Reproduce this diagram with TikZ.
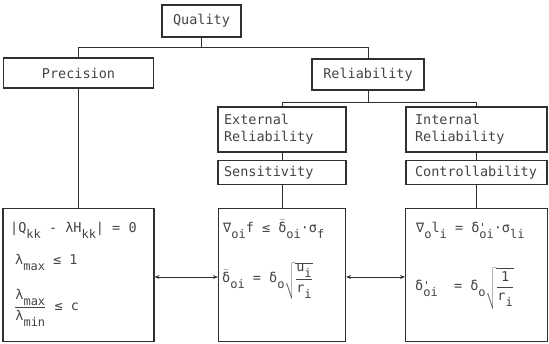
\documentclass[tikz,border=0pt]{standalone}
\usepackage{fontspec}
\usetikzlibrary{arrows.meta,calc}
\newfontfamily\labfont{DejaVu Sans Mono}
\newcommand\lab{\labfont\fontsize{13.5}{17}\selectfont}
\newcommand\lo[1]{\raisebox{-6pt}{\fontsize{12}{12}\selectfont #1}}
\newcommand\dbar{$\bar{\hbox{δ}}$}
\newcommand\dpr{δ\rlap{\raisebox{1pt}{\fontsize{11}{11}\selectfont '}}}
\definecolor{ink}{HTML}{444444}
\definecolor{linec}{HTML}{303030}
\tikzset{
  box/.style={draw=linec, line width=1.1pt, inner sep=0pt, text=ink, font=\lab},
  tbox/.style={box, align=left},
  conn/.style={draw=linec, line width=0.9pt},
  fx/.style={inner sep=0pt, text=ink, font=\lab, anchor=base west},
  arr/.style={conn, {Stealth[length=5pt,width=4pt]}-{Stealth[length=5pt,width=4pt]}},
}
\begin{document}
\begin{tikzpicture}[x=1pt,y=-1pt]
\useasboundingbox (0,0) rectangle (549,344);
% upper boxes
\node[box, minimum width=79pt, minimum height=32pt] (quality) at (201.5,21) {Quality};
\node[box, minimum width=150pt, minimum height=30pt] (precision) at (78.5,73) {Precision};
\node[box, minimum width=112pt, minimum height=31pt] (reliability) at (368,74.5) {Reliability};
\node[tbox, minimum width=128pt, minimum height=45pt, text width=116pt] (external) at (282,129.5) {External\\Reliability};
\node[tbox, minimum width=128pt, minimum height=24pt, text width=116pt] (sensitivity) at (282,172.5) {Sensitivity};
\node[tbox, minimum width=141pt, minimum height=45pt, text width=123pt] (internal) at (476.5,129.5) {Internal\\Reliability};
\node[tbox, minimum width=141pt, minimum height=24pt, text width=123pt] (control) at (476.5,172.5) {Controllability};
% lower boxes
\node[box, minimum width=151pt, minimum height=133pt] (eqP) at (78.5,275) {};
\node[box, minimum width=127pt, minimum height=133pt] (eqS) at (282,275) {};
\node[box, minimum width=142pt, minimum height=133pt] (eqC) at (476.5,275) {};
% connectors
\coordinate (j1) at ($(quality.south)+(0,9.6)$);
\draw[conn] (quality.south) -- (j1);
\draw[conn] (precision.north) |- (j1) -| (reliability.north);
\coordinate (j2) at ($(reliability.south)+(0,11.5)$);
\draw[conn] (reliability.south) -- (j2);
\draw[conn] (external.north) |- (j2) -| (internal.north);
\draw[conn] (precision.south) -- (eqP.north);
\draw[conn] (external.south) -- (sensitivity.north);
\draw[conn] (sensitivity.south) -- (eqS.north);
\draw[conn] (internal.south) -- (control.north);
\draw[conn] (control.south) -- (eqC.north);
\draw[arr] ([yshift=-2pt]eqP.east) -- ([yshift=-2pt]eqS.west);
\draw[arr] ([yshift=-2pt]eqS.east) -- ([yshift=-2pt]eqC.west);
% formulas
\node[fx] (p1) at (10,233) {|Q\lo{kk} - λH\lo{kk}| = 0};
\node[fx] (p2) at (15,265) {λ\lo{max} ≤ 1};
\node[fx] (p3) at (14,311) {$\displaystyle\frac{\hbox{λ\lo{max}}}{\hbox{λ\lo{min}}}$ ≤ c};
\node[fx] (s1) at (223,233) {∇\lo{oi}f ≤ \dbar\lo{oi}·σ\lo{f}};
\node[fx] (s2) at (222,283) {\dbar\lo{oi} = δ\lo{o}$\sqrt{\displaystyle\frac{\hbox{u\lo{i}}}{\hbox{r\lo{i}}}}$};
\node[fx] (c1) at (416,233) {∇\lo{o}l\lo{i} = \dpr\lo{oi}·σ\lo{li}};
\node[fx] (c2) at (415,291) {\dpr\lo{oi}\ \ = δ\lo{o}$\sqrt{\displaystyle\frac{\hbox{1}}{\hbox{r\lo{i}}}}$};
\end{tikzpicture}
\end{document}
